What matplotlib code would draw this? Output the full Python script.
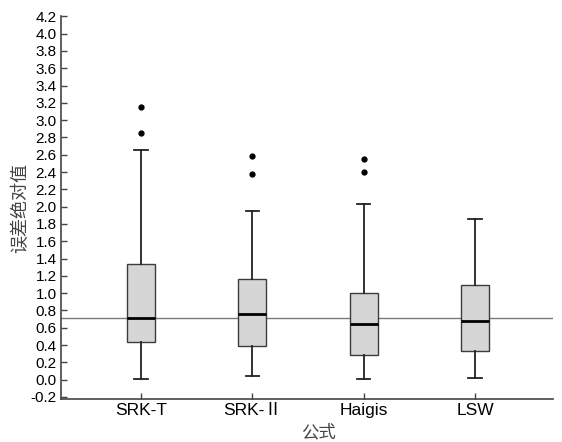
import matplotlib.pyplot as plt

plt.rcParams['font.family'] = ['Liberation Sans', 'Noto Sans CJK SC', 'DejaVu Sans']

# data (five-number summaries + outliers)
formulas = ['SRK-T', 'SRK-Ⅱ', 'Haigis', 'LSW']
whislo = [0.01, 0.04, 0.01, 0.02]
q1 = [0.44, 0.39, 0.29, 0.33]
med = [0.71, 0.755, 0.64, 0.68]
q3 = [1.34, 1.16, 1.00, 1.09]
whishi = [2.65, 1.95, 2.03, 1.86]
fliers = [[3.15, 2.85], [2.58, 2.38], [2.55, 2.40], []]
ref_value = 0.71
yticks = [-0.2 + 0.2 * i for i in range(23)]

stats = []
for i, name in enumerate(formulas):
    stats.append({'label': name, 'whislo': whislo[i], 'q1': q1[i], 'med': med[i],
                  'q3': q3[i], 'whishi': whishi[i], 'fliers': fliers[i]})

fig = plt.figure(figsize=(5.62, 4.42), dpi=100)
ax = fig.add_axes([0.1085, 0.098, 0.8755, 0.869])

ax.axhline(ref_value, color='#7a7a7a', linewidth=1.0, zorder=1)

ax.bxp(stats, positions=[1, 2, 3, 4], widths=0.25, patch_artist=True,
       boxprops=dict(facecolor='#d6d6d6', edgecolor='#3c3c3c', linewidth=1.0),
       medianprops=dict(color='black', linewidth=2.0),
       whiskerprops=dict(color='#222222', linewidth=1.3),
       capprops=dict(color='#222222', linewidth=1.3),
       capwidths=0.12,
       flierprops=dict(marker='o', markerfacecolor='black', markeredgecolor='black',
                       markersize=3.5),
       zorder=2)

ax.set_xlim(0.283, 4.70)
ax.set_ylim(-0.22, 4.22)
ax.set_yticks(yticks)
ax.set_yticklabels([f'{v:.1f}' for v in yticks], fontsize=11)
ax.set_xticks([1, 2, 3, 4])
ax.set_xticklabels(formulas, fontsize=12.5)

ax.spines['top'].set_visible(False)
ax.spines['right'].set_visible(False)
ax.spines['left'].set_bounds(-0.22, 4.2)
for s in ('left', 'bottom'):
    ax.spines[s].set_color('#444444')
    ax.spines[s].set_linewidth(1.2)
ax.tick_params(axis='both', direction='in', length=4, width=1.0, color='#444444', pad=3)

fig.text(0.036, 0.53, '误差绝对值', rotation=90, ha='center', va='center',
         fontsize=13, color='#444444', family=['Noto Sans CJK SC'])
fig.text(0.566, 0.022, '公式', ha='center', va='center',
         fontsize=12.5, color='#444444', family=['Noto Sans CJK SC'])

fig.savefig('out.png', dpi=100)
